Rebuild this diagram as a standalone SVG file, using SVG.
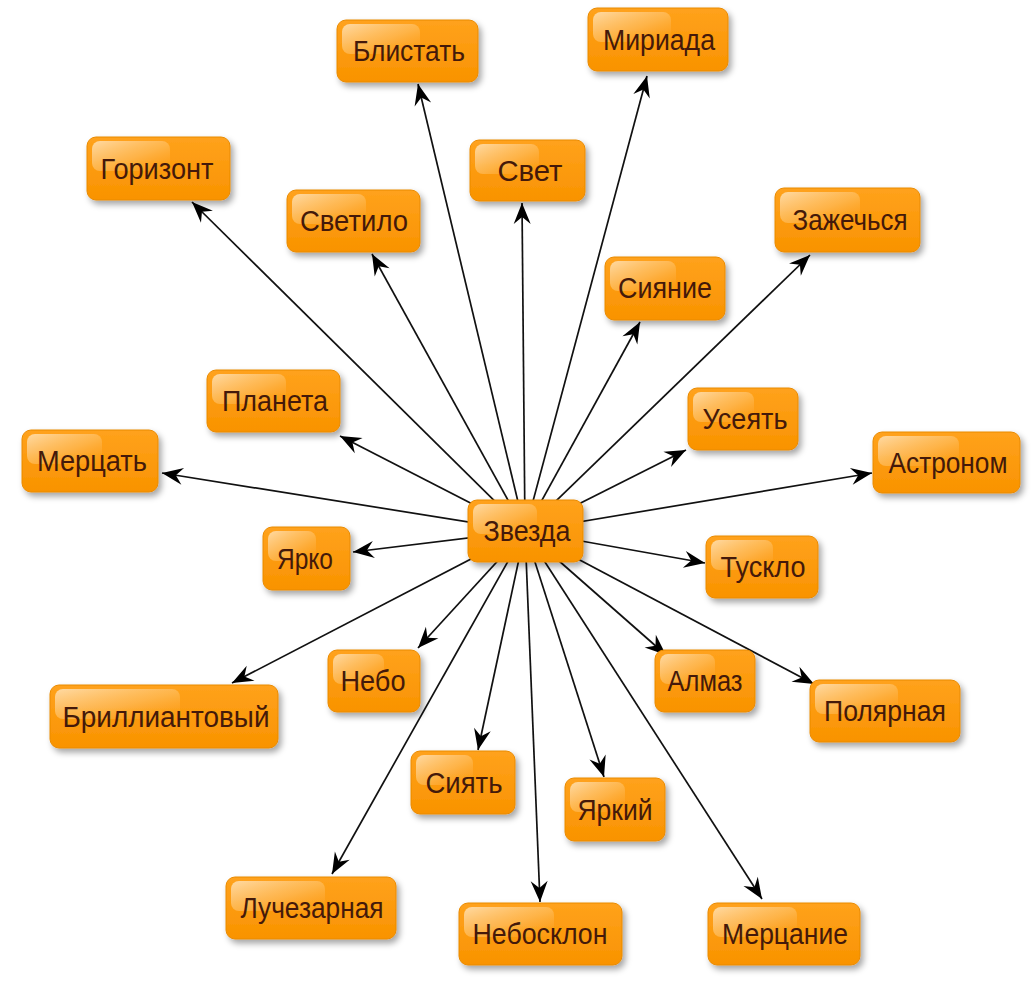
<svg xmlns="http://www.w3.org/2000/svg" width="1032" height="993" viewBox="0 0 1032 993">
<defs>
<style>
.box{fill:url(#og);stroke:#E98A00;stroke-width:1;filter:url(#sh)}
.hl{fill:url(#hg)}
.t{font-family:"Liberation Sans","DejaVu Sans",Arial,sans-serif;font-size:30px;fill:#44190A;text-anchor:middle}
.e{stroke:#111;stroke-width:1.7;fill:none;marker-end:url(#ah)}
</style>
<linearGradient id="og" x1="0" y1="0" x2="0" y2="1">
<stop offset="0" stop-color="#FFA21C"/>
<stop offset="1" stop-color="#F99300"/>
</linearGradient>
<linearGradient id="hg" x1="0" y1="0" x2="1" y2="1">
<stop offset="0" stop-color="#FFE4BC" stop-opacity="0.85"/>
<stop offset="0.55" stop-color="#FFC878" stop-opacity="0.5"/>
<stop offset="1" stop-color="#FFB040" stop-opacity="0"/>
</linearGradient>
<filter id="sh" x="-10%" y="-10%" width="130%" height="140%">
<feDropShadow dx="3" dy="4" stdDeviation="3" flood-color="#000" flood-opacity="0.35"/>
</filter>
<marker id="ah" markerUnits="userSpaceOnUse" markerWidth="24" markerHeight="20" viewBox="-22 -10 24 20" refX="0" refY="0" orient="auto">
<path d="M0,0 L-21,-8.5 L-14,0 L-21,8.5 Z" fill="#000"/>
</marker>
</defs>
<rect width="1032" height="993" fill="#fff"/>
<g id="edges">
<line class="e" x1="525" y1="531" x2="418" y2="84"/>
<line class="e" x1="525" y1="531" x2="647" y2="76"/>
<line class="e" x1="525" y1="531" x2="192" y2="202"/>
<line class="e" x1="525" y1="531" x2="522" y2="203"/>
<line class="e" x1="525" y1="531" x2="372" y2="254"/>
<line class="e" x1="525" y1="531" x2="810" y2="255"/>
<line class="e" x1="525" y1="531" x2="640" y2="322"/>
<line class="e" x1="525" y1="531" x2="340" y2="436"/>
<line class="e" x1="525" y1="531" x2="686" y2="450"/>
<line class="e" x1="525" y1="531" x2="162" y2="473"/>
<line class="e" x1="525" y1="531" x2="872" y2="473"/>
<line class="e" x1="525" y1="531" x2="353" y2="552"/>
<line class="e" x1="525" y1="531" x2="705" y2="563"/>
<line class="e" x1="525" y1="531" x2="418" y2="648"/>
<line class="e" x1="525" y1="531" x2="232" y2="683"/>
<line class="e" x1="525" y1="531" x2="666" y2="655"/>
<line class="e" x1="525" y1="531" x2="814" y2="684"/>
<line class="e" x1="525" y1="531" x2="478" y2="750"/>
<line class="e" x1="525" y1="531" x2="604" y2="777"/>
<line class="e" x1="525" y1="531" x2="332" y2="874"/>
<line class="e" x1="525" y1="531" x2="540" y2="902"/>
<line class="e" x1="525" y1="531" x2="762" y2="899"/>
</g>
<g id="n-blistat"><rect class="box" x="337" y="20" width="141" height="62" rx="9"/><rect class="hl" x="342" y="24" width="78" height="30" rx="8"/><text class="t" x="409" y="61" textLength="112" lengthAdjust="spacingAndGlyphs">Блистать</text></g>
<g id="n-miriada"><rect class="box" x="588" y="8" width="140" height="63" rx="9"/><rect class="hl" x="593" y="12" width="78" height="30" rx="8"/><text class="t" x="659" y="50" textLength="112" lengthAdjust="spacingAndGlyphs">Мириада</text></g>
<g id="n-gorizont"><rect class="box" x="87" y="137" width="143" height="63" rx="9"/><rect class="hl" x="92" y="141" width="78" height="30" rx="8"/><text class="t" x="157" y="179" textLength="113" lengthAdjust="spacingAndGlyphs">Горизонт</text></g>
<g id="n-svet"><rect class="box" x="470" y="140" width="115" height="61" rx="9"/><rect class="hl" x="475" y="144" width="64" height="30" rx="8"/><text class="t" x="530" y="181" textLength="65" lengthAdjust="spacingAndGlyphs">Свет</text></g>
<g id="n-svetilo"><rect class="box" x="287" y="190" width="133" height="62" rx="9"/><rect class="hl" x="292" y="194" width="74" height="30" rx="8"/><text class="t" x="354" y="231" textLength="108" lengthAdjust="spacingAndGlyphs">Светило</text></g>
<g id="n-zazhechsya"><rect class="box" x="775" y="188" width="145" height="64" rx="9"/><rect class="hl" x="780" y="192" width="80" height="31" rx="8"/><text class="t" x="850" y="230" textLength="115" lengthAdjust="spacingAndGlyphs">Зажечься</text></g>
<g id="n-siyanie"><rect class="box" x="605" y="257" width="120" height="63" rx="9"/><rect class="hl" x="610" y="261" width="66" height="30" rx="8"/><text class="t" x="665" y="298" textLength="94" lengthAdjust="spacingAndGlyphs">Сияние</text></g>
<g id="n-planeta"><rect class="box" x="207" y="370" width="133" height="62" rx="9"/><rect class="hl" x="212" y="374" width="74" height="30" rx="8"/><text class="t" x="275" y="411" textLength="106" lengthAdjust="spacingAndGlyphs">Планета</text></g>
<g id="n-useyat"><rect class="box" x="688" y="388" width="110" height="62" rx="9"/><rect class="hl" x="693" y="392" width="61" height="30" rx="8"/><text class="t" x="745" y="429" textLength="85" lengthAdjust="spacingAndGlyphs">Усеять</text></g>
<g id="n-mertsat"><rect class="box" x="22" y="430" width="136" height="62" rx="9"/><rect class="hl" x="27" y="434" width="75" height="30" rx="8"/><text class="t" x="92" y="471" textLength="110" lengthAdjust="spacingAndGlyphs">Мерцать</text></g>
<g id="n-astronom"><rect class="box" x="873" y="432" width="147" height="61" rx="9"/><rect class="hl" x="878" y="436" width="81" height="30" rx="8"/><text class="t" x="948" y="473" textLength="119" lengthAdjust="spacingAndGlyphs">Астроном</text></g>
<g id="n-yarko"><rect class="box" x="263" y="527" width="87" height="63" rx="9"/><rect class="hl" x="268" y="531" width="48" height="30" rx="8"/><text class="t" x="305" y="569" textLength="56" lengthAdjust="spacingAndGlyphs">Ярко</text></g>
<g id="n-tusklo"><rect class="box" x="706" y="536" width="112" height="62" rx="9"/><rect class="hl" x="711" y="540" width="62" height="30" rx="8"/><text class="t" x="763" y="577" textLength="85" lengthAdjust="spacingAndGlyphs">Тускло</text></g>
<g id="n-nebo"><rect class="box" x="328" y="650" width="92" height="62" rx="9"/><rect class="hl" x="333" y="654" width="51" height="30" rx="8"/><text class="t" x="373" y="691" textLength="65" lengthAdjust="spacingAndGlyphs">Небо</text></g>
<g id="n-brilliantovy"><rect class="box" x="50" y="685" width="228" height="63" rx="9"/><rect class="hl" x="55" y="689" width="125" height="30" rx="8"/><text class="t" x="166" y="727" textLength="207" lengthAdjust="spacingAndGlyphs">Бриллиантовый</text></g>
<g id="n-almaz"><rect class="box" x="655" y="650" width="100" height="62" rx="9"/><rect class="hl" x="660" y="654" width="55" height="30" rx="8"/><text class="t" x="705" y="691" textLength="75" lengthAdjust="spacingAndGlyphs">Алмаз</text></g>
<g id="n-polyarnaya"><rect class="box" x="810" y="680" width="150" height="62" rx="9"/><rect class="hl" x="815" y="684" width="83" height="30" rx="8"/><text class="t" x="885" y="721" textLength="122" lengthAdjust="spacingAndGlyphs">Полярная</text></g>
<g id="n-siyat"><rect class="box" x="411" y="751" width="104" height="63" rx="9"/><rect class="hl" x="416" y="755" width="57" height="30" rx="8"/><text class="t" x="464" y="793" textLength="77" lengthAdjust="spacingAndGlyphs">Сиять</text></g>
<g id="n-yarkiy"><rect class="box" x="565" y="778" width="100" height="63" rx="9"/><rect class="hl" x="570" y="782" width="55" height="30" rx="8"/><text class="t" x="615" y="820" textLength="75" lengthAdjust="spacingAndGlyphs">Яркий</text></g>
<g id="n-luchezarnaya"><rect class="box" x="226" y="877" width="170" height="62" rx="9"/><rect class="hl" x="231" y="881" width="94" height="30" rx="8"/><text class="t" x="312" y="918" textLength="143" lengthAdjust="spacingAndGlyphs">Лучезарная</text></g>
<g id="n-nebosklon"><rect class="box" x="459" y="903" width="163" height="62" rx="9"/><rect class="hl" x="464" y="907" width="90" height="30" rx="8"/><text class="t" x="540" y="944" textLength="135" lengthAdjust="spacingAndGlyphs">Небосклон</text></g>
<g id="n-mertsanie"><rect class="box" x="708" y="903" width="152" height="62" rx="9"/><rect class="hl" x="713" y="907" width="84" height="30" rx="8"/><text class="t" x="785" y="944" textLength="126" lengthAdjust="spacingAndGlyphs">Мерцание</text></g>
<g id="n-zvezda"><rect class="box" x="468" y="500" width="115" height="62" rx="9"/><rect class="hl" x="473" y="504" width="64" height="30" rx="8"/><text class="t" x="527" y="541" textLength="87" lengthAdjust="spacingAndGlyphs">Звезда</text></g>
</svg>
